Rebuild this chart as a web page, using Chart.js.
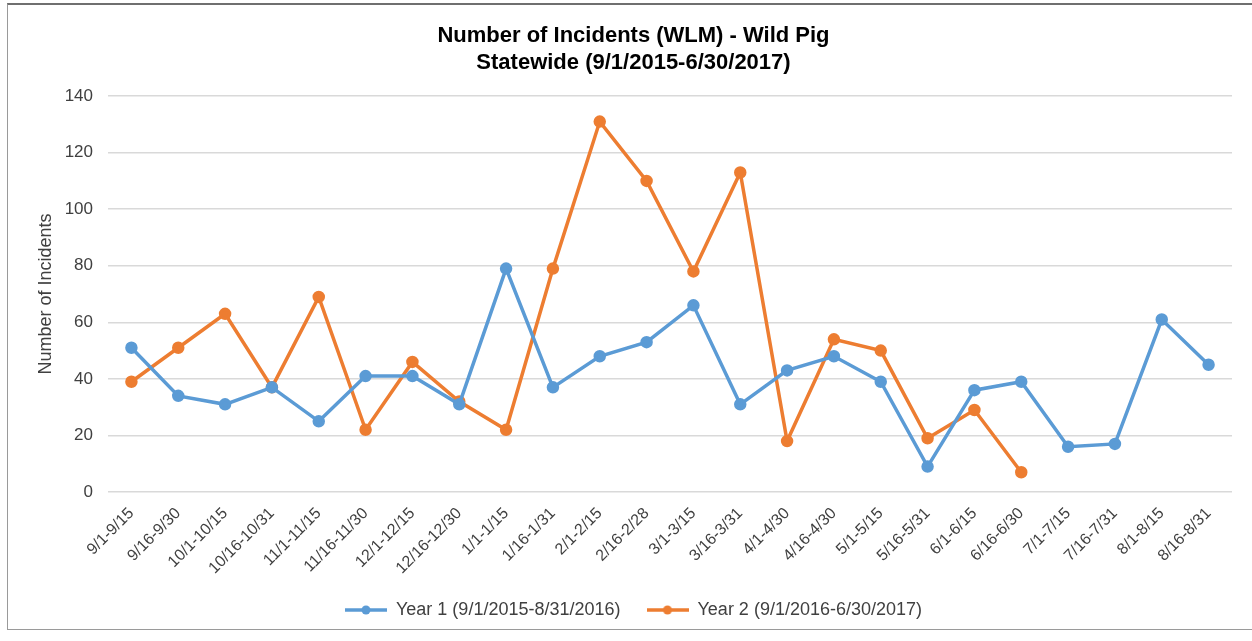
<!DOCTYPE html>
<html>
<head>
<meta charset="utf-8">
<script src="https://cdn.jsdelivr.net/npm/chart.js@4"></script>
<style>
  html, body { margin: 0; padding: 0; background: #fff; }
  #wrap { position: relative; width: 1252px; height: 641px; }
  #frame { position: absolute; left: 7px; top: 3px; width: 1250px; height: 627px; border: 1px solid #9a9a9a; border-top: 2px solid #6f6f6f; box-sizing: border-box; }
  canvas { position: absolute; left: 0; top: 0; }
</style>
</head>
<body>
<div id="wrap">
  <div id="frame"></div>
  <canvas id="c" width="1252" height="641"></canvas>
</div>
<script>
const categories = ['9/1-9/15','9/16-9/30','10/1-10/15','10/16-10/31','11/1-11/15','11/16-11/30','12/1-12/15','12/16-12/30','1/1-1/15','1/16-1/31','2/1-2/15','2/16-2/28','3/1-3/15','3/16-3/31','4/1-4/30','4/16-4/30','5/1-5/15','5/16-5/31','6/1-6/15','6/16-6/30','7/1-7/15','7/16-7/31','8/1-8/15','8/16-8/31'];
const year1 = [51,34,31,37,25,41,41,31,79,37,48,53,66,31,43,48,39,9,36,39,16,17,61,45];
const year2 = [39,51,63,37,69,22,46,32,22,79,131,110,78,113,18,54,50,19,29,7];
const seriesNames = ['Year 1 (9/1/2015-8/31/2016)','Year 2 (9/1/2016-6/30/2017)'];
const titleLines = ['Number of Incidents (WLM) - Wild Pig','Statewide (9/1/2015-6/30/2017)'];
const yTicks = [0,20,40,60,80,100,120,140];

const BLUE = '#5B9BD5', ORANGE = '#ED7D31';
const FONT = "'Liberation Sans', Arial, sans-serif";
const PAD = { left: 35, right: 20, top: 8, bottom: 12 };
const PLOT_LEFT = 108, PLOT_BOTTOM = 492;

function legendIcon(color) {
  const cv = document.createElement('canvas');
  cv.width = 42; cv.height = 10;
  const g = cv.getContext('2d');
  g.strokeStyle = color; g.lineWidth = 3.5;
  g.beginPath(); g.moveTo(0,5); g.lineTo(42,5); g.stroke();
  g.fillStyle = color;
  g.beginPath(); g.arc(21,5,4.5,0,Math.PI*2); g.fill();
  return cv;
}
const icons = [legendIcon(BLUE), legendIcon(ORANGE)];

new Chart(document.getElementById('c'), {
  type: 'line',
  data: {
    labels: categories,
    datasets: [
      { label: seriesNames[0], data: year1, borderColor: BLUE, backgroundColor: BLUE, borderWidth: 3.5, pointRadius: 4.5, pointHoverRadius: 4.5, tension: 0 },
      { label: seriesNames[1], data: year2, borderColor: ORANGE, backgroundColor: ORANGE, borderWidth: 3.5, pointRadius: 4.5, pointHoverRadius: 4.5, tension: 0 }
    ]
  },
  options: {
    responsive: false,
    animation: false,
    layout: { padding: PAD },
    plugins: {
      title: {
        display: true,
        text: titleLines,
        color: '#000',
        font: { family: FONT, size: 22, weight: 'bold', lineHeight: 1.23 },
        padding: { top: 14, bottom: 20 }
      },
      legend: {
        position: 'bottom',
        labels: {
          color: '#404040',
          font: { family: FONT, size: 18 },
          usePointStyle: true,
          pointStyleWidth: 42,
          padding: 26,
          generateLabels: (chart) => chart.data.datasets.map((ds, i) => ({
            text: ds.label,
            pointStyle: icons[i],
            fillStyle: ds.borderColor,
            strokeStyle: ds.borderColor,
            lineWidth: 0,
            hidden: false,
            datasetIndex: i,
            fontColor: '#404040'
          }))
        }
      },
      tooltip: { enabled: false }
    },
    scales: {
      x: {
        offset: true,
        grid: { display: false },
        border: { display: false },
        ticks: { color: '#404040', font: { family: FONT, size: 16 }, minRotation: 45, maxRotation: 45, autoSkip: false, padding: 4 },
        afterFit: (s) => { s.height = 641 - PAD.bottom - s.chart.legend.height - PLOT_BOTTOM; }
      },
      y: {
        min: 0, max: 140,
        afterBuildTicks: (s) => { s.ticks = yTicks.map(v => ({ value: v })); },
        afterFit: (s) => { s.width = PLOT_LEFT - PAD.left; },
        grid: { color: '#d9d9d9', lineWidth: 1.5, drawTicks: false },
        border: { display: false },
        ticks: { color: '#404040', font: { family: FONT, size: 17 }, padding: 15 },
        title: { display: true, text: 'Number of Incidents', color: '#404040', font: { family: FONT, size: 18 }, padding: { top: 0, bottom: 0 } }
      }
    }
  }
});
</script>
</body>
</html>
